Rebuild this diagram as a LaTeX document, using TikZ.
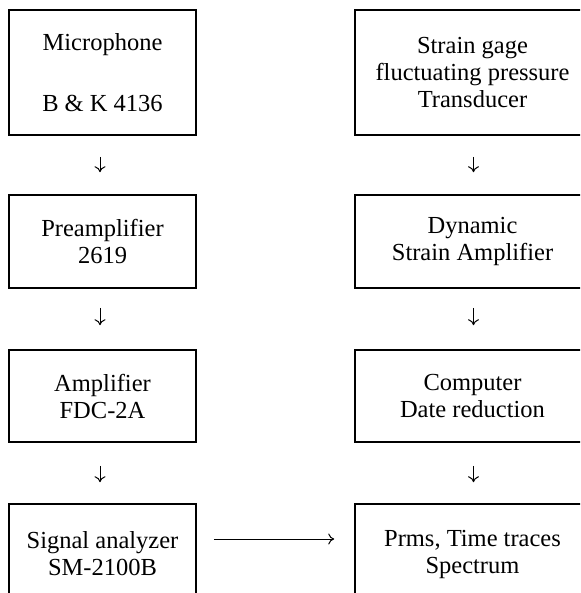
\documentclass[tikz,border=0pt]{standalone}
\usepackage{fontspec}
\setmainfont{Liberation Serif}
\usetikzlibrary{arrows.meta}
\tikzset{
  blk/.style={draw=black, line width=1.6pt, rectangle, inner sep=0pt, align=center,
    font=\fontsize{24.5}{27}\selectfont},
  lbox/.style={blk, minimum width=187pt},
  rbox/.style={blk, minimum width=235pt},
  arr/.style={line width=1pt, -{To[length=6pt,width=11pt,line width=1pt]}}
}
\begin{document}
\begin{tikzpicture}[x=1pt,y=-1pt]
\useasboundingbox (0,0) rectangle (580,593);
\clip (0,0) rectangle (580,593);
% left column
\node[lbox, minimum height=125pt] (L1) at (102.5,72.5) {Microphone\\[34pt]B \& K 4136};
\node[lbox, minimum height=93pt]  (L2) at (102.5,241.5) {Preamplifier\\2619};
\node[lbox, minimum height=92pt]  (L3) at (102.5,396) {Amplifier\\FDC-2A};
\node[lbox, minimum height=100pt] (L4) at (102.5,554) {Signal analyzer\\SM-2100B};
% right column
\node[rbox, minimum height=125pt] (R1) at (472.5,72.5) {Strain gage\\fluctuating pressure\\Transducer};
\node[rbox, minimum height=93pt]  (R2) at (472.5,241.5) {Dynamic\\Strain Amplifier};
\node[rbox, minimum height=92pt]  (R3) at (472.5,396) {Computer\\Date reduction};
\node[rbox, minimum height=100pt] (R4) at (472.5,554) {Prms, Time traces\\Spectrum};
% vertical arrows
\draw[arr] ([shift={(-2.5pt,-21pt)}]L1.south) -- ([shift={(-2.5pt,22pt)}]L2.north);
\draw[arr] ([shift={(-2.5pt,-19pt)}]L2.south) -- ([shift={(-2.5pt,24pt)}]L3.north);
\draw[arr] ([shift={(-2.5pt,-23pt)}]L3.south) -- ([shift={(-2.5pt,21pt)}]L4.north);
\draw[arr] ([shift={(1pt,-21pt)}]R1.south) -- ([shift={(1pt,22pt)}]R2.north);
\draw[arr] ([shift={(1pt,-19pt)}]R2.south) -- ([shift={(1pt,24pt)}]R3.north);
\draw[arr] ([shift={(1pt,-23pt)}]R3.south) -- ([shift={(1pt,21pt)}]R4.north);
% horizontal arrow
\draw[arr] ([shift={(17pt,15pt)}]L4.east) -- ([shift={(-20pt,15pt)}]R4.west);
\end{tikzpicture}
\end{document}
